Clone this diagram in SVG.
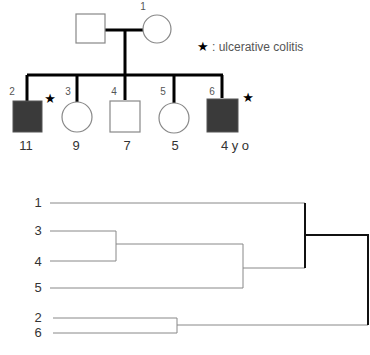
<svg xmlns="http://www.w3.org/2000/svg" width="370" height="355" viewBox="0 0 370 355">
<style>
.open{fill:#fff;stroke:#888;stroke-width:1.2}
.aff{fill:#3a3a3a;stroke:#555;stroke-width:1}
.thick{stroke:#000;stroke-width:3;fill:none}
.thin{stroke:#888;stroke-width:1;fill:none}
.bold{stroke:#111;stroke-width:2;fill:none}
.num{font-family:"Liberation Sans",Arial,sans-serif;font-size:10px;fill:#555}
.age{font-family:"Liberation Sans",Arial,sans-serif;font-size:13px;fill:#333}
.lbl{font-family:"Liberation Sans",Arial,sans-serif;font-size:13px;fill:#333}
.star{font-family:"DejaVu Sans",sans-serif;font-size:13px;fill:#000}
.leg{font-family:"Liberation Sans",Arial,sans-serif;font-size:12px;fill:#555}
</style>
<rect width="370" height="355" fill="#fff"/>
<g id="connectors">
<path class="thick" d="M105 30H143M125 30V75M27 75H223M27 75V101M77 75V102M125 75V100M174 75V103M222 75V98"/>
<path class="thin" d="M50 203H305M50 231H116M50 261H116M116 231V261M116 244H243M50 288H243M243 244V288M243 268H305M53 318H177M53 333H177M177 318V333M177 325H368"/>
<path class="bold" d="M305 203V268M305 235H368V325"/>
</g>
<g id="father"><rect class="open" x="76" y="14" width="29" height="29"/></g>
<g id="mother"><circle class="open" cx="157" cy="29" r="14"/><text class="num" x="143" y="10" text-anchor="middle">1</text></g>
<g id="legend"><text class="leg" x="197" y="51"><tspan class="star">★</tspan> : ulcerative colitis</text></g>
<g id="child2"><rect class="aff" x="13" y="101" width="29" height="31"/><text class="num" x="12" y="95" text-anchor="middle">2</text><text class="star" x="50" y="103" text-anchor="middle">★</text><text class="age" x="26" y="150" text-anchor="middle">11</text></g>
<g id="child3"><circle class="open" cx="77" cy="117" r="15"/><text class="num" x="68" y="95" text-anchor="middle">3</text><text class="age" x="76" y="150" text-anchor="middle">9</text></g>
<g id="child4"><rect class="open" x="110" y="101" width="30" height="31"/><text class="num" x="114" y="95" text-anchor="middle">4</text><text class="age" x="127" y="150" text-anchor="middle">7</text></g>
<g id="child5"><circle class="open" cx="174" cy="118" r="15"/><text class="num" x="163" y="95" text-anchor="middle">5</text><text class="age" x="175" y="150" text-anchor="middle">5</text></g>
<g id="child6"><rect class="aff" x="207" y="99" width="31" height="33"/><text class="num" x="212" y="95" text-anchor="middle">6</text><text class="star" x="248" y="102" text-anchor="middle">★</text><text class="age" x="235" y="150" text-anchor="middle">4 y o</text></g>
<g id="dendro-labels">
<text class="lbl" x="38" y="207" text-anchor="middle">1</text>
<text class="lbl" x="38" y="235" text-anchor="middle">3</text>
<text class="lbl" x="38" y="266" text-anchor="middle">4</text>
<text class="lbl" x="38" y="292" text-anchor="middle">5</text>
<text class="lbl" x="38" y="322" text-anchor="middle">2</text>
<text class="lbl" x="38" y="337" text-anchor="middle">6</text>
</g>
</svg>
